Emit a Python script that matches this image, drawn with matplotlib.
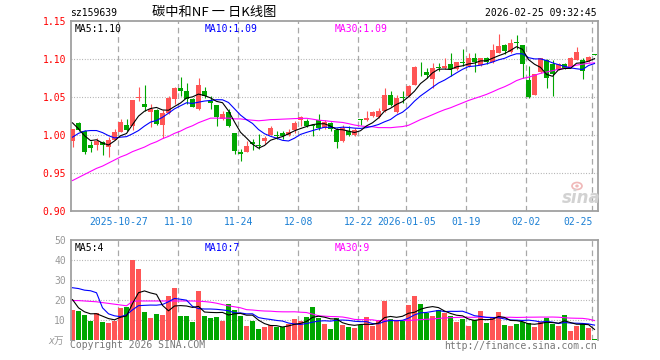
import matplotlib
matplotlib.use("Agg")
import matplotlib.pyplot as plt
from matplotlib.patches import Ellipse
import numpy as np
import pandas as pd

# daily K data, 2025-10-15 .. 2026-02-25 (88 trading days)
opens = [0.9917, 1.0158, 1.0048, 0.9864, 0.9864, 0.9908, 0.984, 0.9939, 1.004, 1.0136,
         1.0114, 1.048, 1.040, 1.0298, 1.0333, 1.0136, 1.029, 1.0465, 1.061, 1.057,
         1.047, 1.0346, 1.0575, 1.044, 1.0386, 1.021, 1.0298, 1.0026, 0.978, 0.978,
         0.9912, 0.9868, 0.9917, 1.0004, 1.0004, 1.0026, 0.9996, 1.006, 1.0193, 1.018,
         1.0123, 1.0193, 1.0092, 1.0158, 1.007, 0.9917, 1.0048, 1.0004, 1.021, 1.020,
         1.0246, 1.0232, 1.031, 1.053, 1.030, 1.0496, 1.051, 1.066, 1.0895, 1.083,
         1.0728, 1.0895, 1.088, 1.0925, 1.086, 1.095, 1.0904, 1.1004, 1.0917, 1.1004,
         1.096, 1.108, 1.1175, 1.1088, 1.1215, 1.1175, 1.072, 1.053, 1.083, 1.099,
         1.0934, 1.086, 1.0925, 1.089, 1.099, 1.099, 1.097, 1.1057]
highs = [1.0083, 1.0175, 1.006, 0.9925, 0.996, 0.9925, 0.997, 1.008, 1.021, 1.021,
         1.046, 1.063, 1.065, 1.041, 1.034, 1.033, 1.051, 1.063, 1.076, 1.068,
         1.049, 1.075, 1.063, 1.051, 1.039, 1.031, 1.034, 1.003, 0.9816, 0.9925,
         0.9947, 1.0018, 0.999, 1.012, 1.005, 1.005, 1.008, 1.018, 1.0254, 1.021,
         1.0136, 1.0268, 1.020, 1.0167, 1.0092, 1.0127, 1.0114, 1.0092, 1.021, 1.031,
         1.032, 1.0355, 1.061, 1.0575, 1.052, 1.0575, 1.0654, 1.090, 1.0956, 1.088,
         1.0947, 1.0947, 1.101, 1.108, 1.096, 1.113, 1.108, 1.108, 1.101, 1.1018,
         1.119, 1.132, 1.119, 1.1254, 1.1307, 1.1175, 1.0904, 1.080, 1.101, 1.100,
         1.0978, 1.0947, 1.094, 1.102, 1.1153, 1.101, 1.1035, 1.1057]
lows = [0.984, 1.005, 0.9754, 0.977, 0.980, 0.974, 0.971, 0.993, 1.0035, 1.005,
        1.007, 1.044, 1.031, 1.0105, 1.013, 0.996, 1.028, 1.041, 1.051, 1.040,
        1.036, 1.033, 1.049, 1.034, 1.0114, 1.019, 1.011, 0.9754, 0.9653, 0.977,
        0.9807, 0.982, 0.988, 1.000, 0.9947, 0.9947, 0.998, 1.0026, 1.0123, 1.0105,
        0.999, 1.007, 1.008, 1.0048, 0.983, 0.9908, 0.998, 0.998, 1.0136, 1.018,
        1.0237, 1.0224, 1.030, 1.0377, 1.029, 1.042, 1.050, 1.065, 1.077, 1.075,
        1.061, 1.0838, 1.086, 1.077, 1.085, 1.090, 1.089, 1.083, 1.090, 1.0925,
        1.0947, 1.107, 1.1066, 1.108, 1.1123, 1.075, 1.0487, 1.052, 1.0816, 1.0618,
        1.0509, 1.085, 1.087, 1.088, 1.098, 1.0728, 1.096, 1.105]
closes = [1.0083, 1.007, 0.977, 0.983, 0.9925, 0.987, 0.9939, 1.004, 1.017, 1.007,
          1.0456, 1.0496, 1.0364, 1.0346, 1.014, 1.029, 1.0478, 1.061, 1.0575, 1.0465,
          1.037, 1.066, 1.051, 1.0425, 1.0237, 1.028, 1.0123, 0.9785, 0.9746, 0.986,
          0.9877, 0.986, 0.996, 1.009, 0.999, 0.999, 1.004, 1.0158, 1.0237, 1.0123,
          1.0114, 1.0092, 1.0167, 1.008, 0.9908, 1.0092, 1.0004, 1.007, 1.020, 1.0224,
          1.0298, 1.032, 1.052, 1.0386, 1.0478, 1.0478, 1.064, 1.089, 1.0886, 1.0785,
          1.0873, 1.088, 1.090, 1.086, 1.0956, 1.094, 1.1004, 1.0956, 1.1004, 1.096,
          1.111, 1.1167, 1.110, 1.121, 1.1206, 1.0934, 1.0496, 1.0794, 1.1004, 1.075,
          1.0803, 1.0925, 1.088, 1.101, 1.1088, 1.0838, 1.102, 1.1052]
volumes = [15.3, 14.8, 12.7, 9.8, 13.7, 9.2, 8.7, 9.7, 16.2, 16.8,
           40.2, 35.7, 14.2, 11.2, 13.2, 12.7, 22.2, 26.2, 12.2, 12.2,
           9.2, 24.7, 12.2, 11.2, 11.7, 9.7, 18.2, 15.3, 12.2, 7.2,
           9.8, 5.7, 6.7, 7.5, 6.8, 6.5, 8.3, 10.7, 9.8, 11.7,
           16.7, 11.2, 8.2, 5.7, 11.2, 7.5, 6.7, 6.2, 7.8, 11.7,
           7.2, 10.2, 19.7, 10.7, 9.5, 9.8, 17.7, 22.2, 18.2, 13.7,
           12.2, 15.2, 13.7, 12.2, 9.2, 10.7, 7.2, 10.2, 14.7, 8.7,
           11.7, 14.2, 7.7, 7.2, 8.2, 9.2, 8.7, 6.7, 9.2, 11.2,
           8.3, 7.2, 12.7, 4.7, 7.2, 8.2, 6.2, 0.8]

# moving-average values before the window is full
ma5_head = [1.0158, 1.008, 0.999, 0.9925]
ma10_head = [0.997, 1.002, 1.005, 1.0057, 1.0057, 1.003, 0.999, 0.996, 0.997]
ma30_head = [0.940, 0.944, 0.948, 0.952, 0.956, 0.959, 0.963, 0.967, 0.971, 0.974,
             0.978, 0.981, 0.984, 0.988, 0.991, 0.995, 0.998, 1.002, 1.005, 1.009,
             1.012, 1.016, 1.019, 1.022, 1.022, 1.022, 1.022, 1.021, 1.021]
vma5_head = [20.3, 16.2, 14.2, 13.2]
vma10_head = [26.2, 25.8, 25.0, 24.7, 23.7, 16.2, 13.2, 12.2, 11.8]
vma30_head = [19.8, 19.8, 19.6, 19.4, 19.2, 18.8, 18.4, 18.0, 17.6, 17.2,
              19.4, 19.6, 19.6, 19.6, 19.6, 19.6, 19.6, 19.6, 19.6, 19.6,
              19.6, 19.5, 19.3, 19.0, 18.5, 17.8, 17.2, 16.7, 16.2]

date_idx = [8, 18, 28, 38, 48, 56, 66, 76, 87]
date_labels = ["2025-10-27", "11-10", "11-24", "12-08", "12-22",
               "2026-01-05", "01-19", "02-02", "02-25"]
price_ticks = [0.90, 0.95, 1.00, 1.05, 1.10, 1.15]
vol_ticks = [10, 20, 30, 40, 50]

RED = "#ff5555"
GREEN = "#00a600"
GRID = "#a8a8a8"
FRAME = "#a0a0a0"
MONO = "DejaVu Sans Mono"
W, H = 660, 360


def moving_avg(values, n, head):
    s = pd.Series(values, dtype=float).rolling(n).mean()
    s.iloc[:len(head)] = head
    return s.values


def fx(px):
    return px / W


def fy(py):
    return 1 - py / H


o = np.array(opens)
c = np.array(closes)
x = np.arange(len(c))
up = c >= o
colors = np.where(up, RED, GREEN)

fig = plt.figure(figsize=(6.6, 3.6), dpi=100)
ax = fig.add_axes([fx(70.7), fy(211), fx(527), (211 - 20.7) / H])
axv = fig.add_axes([fx(70.7), fy(340.3), fx(527), (340.3 - 240) / H])
xlim = (-0.3, 87.53)
grid_x = [i - 0.35 for i in date_idx]

# --- price panel
for a in (ax, axv):
    for gx in grid_x:
        a.axvline(gx, color=GRID, lw=0.9, dashes=(4.5, 3), zorder=1)
for lvl in price_ticks[1:-1]:
    ax.axhline(lvl, color=GRID, lw=0.8, dashes=(0.8, 1.6), zorder=1)

ax.vlines(x, lows, highs, colors=colors, lw=0.8, zorder=2)
ax.bar(x, np.maximum(np.abs(c - o), 0.0011), bottom=np.minimum(o, c),
       width=0.83, color=colors, lw=0, zorder=3)

ma5 = moving_avg(closes, 5, ma5_head)
ma10 = moving_avg(closes, 10, ma10_head)
ma30 = moving_avg(closes, 30, ma30_head)
ax.plot(x, ma30, color="#ff00ff", lw=0.8, zorder=4)
ax.plot(x, ma10, color="#0000ff", lw=0.8, zorder=4)
ax.plot(x, ma5, color="#000000", lw=0.8, zorder=4)

ax.set_xlim(*xlim)
ax.set_ylim(0.90, 1.15)
ax.set_yticks(price_ticks)
ax.set_yticklabels([f"{t:.2f}" for t in price_ticks], fontsize=7, family=MONO, color="#ff0000")
ax.set_xticks(grid_x)
ax.set_xticklabels(date_labels, fontsize=7, family=MONO, color="#1a7fd4")
ax.get_xticklabels()[-1].set_ha("right")
ax.tick_params(axis="y", length=0, pad=3.4)
ax.tick_params(axis="x", length=0, pad=4)
for sp in ax.spines.values():
    sp.set_color(FRAME)
    sp.set_linewidth(1.3)

ax.text(0.008, 0.985, "MA5:1.10", transform=ax.transAxes, fontsize=7, family=MONO,
        color="#000000", va="top")
ax.text((205 - 70.7) / 527, 0.985, "MA10:1.09", transform=ax.transAxes, fontsize=7,
        family=MONO, color="#0000ff", va="top")
ax.text((334.7 - 70.7) / 527, 0.985, "MA30:1.09", transform=ax.transAxes, fontsize=7,
        family=MONO, color="#ff00ff", va="top")

# --- volume panel
for lvl in vol_ticks[:-1]:
    axv.axhline(lvl, color=GRID, lw=0.8, dashes=(0.8, 1.6), zorder=1)
axv.bar(x, volumes, width=0.83, color=colors, lw=0, zorder=2)
axv.plot(x, moving_avg(volumes, 30, vma30_head), color="#ff00ff", lw=0.8, zorder=3)
axv.plot(x, moving_avg(volumes, 10, vma10_head), color="#0000ff", lw=0.8, zorder=3)
axv.plot(x, moving_avg(volumes, 5, vma5_head), color="#000000", lw=0.8, zorder=3)
axv.set_xlim(*xlim)
axv.set_ylim(0, 50)
axv.set_xticks([])
axv.set_yticks(vol_ticks)
axv.set_yticklabels([str(t) for t in vol_ticks], fontsize=7, family=MONO, color="#999999")
axv.tick_params(axis="y", length=0, pad=3.4)
for sp in axv.spines.values():
    sp.set_color(FRAME)
    sp.set_linewidth(1.3)
axv.spines["bottom"].set_visible(False)

axv.text(0.008, 0.97, "MA5:4", transform=axv.transAxes, fontsize=7, family=MONO,
         color="#000000", va="top")
axv.text((205 - 70.7) / 527, 0.97, "MA10:7", transform=axv.transAxes, fontsize=7,
         family=MONO, color="#0000ff", va="top")
axv.text((334.7 - 70.7) / 527, 0.97, "MA30:9", transform=axv.transAxes, fontsize=7,
         family=MONO, color="#ff00ff", va="top")

# --- header / footer texts
fig.text(fx(70), fy(13), "sz159639", fontsize=7, family=MONO, va="center", ha="left")
fig.text(fx(213.7), fy(12.5), "碳中和NF 一 日K线图", fontsize=9.5,
         family=["Noto Sans CJK SC", "DejaVu Sans"], va="center", ha="center")
fig.text(fx(597), fy(13), "2026-02-25 09:32:45", fontsize=7, family=MONO,
         va="center", ha="right")
fig.text(fx(63.5), fy(341), "x万", fontsize=7, family=[MONO, "Noto Sans CJK SC"],
         color="#999999", va="center", ha="right", style="italic")
fig.text(fx(69.5), fy(345.5), "Copyright 2026 SINA.COM", fontsize=7, family=MONO,
         color="#777777", va="center", ha="left")
fig.text(fx(597), fy(346), "http://finance.sina.com.cn", fontsize=7, family=MONO,
         color="#777777", va="center", ha="right")

# sina watermark: eye mark + word
fig.patches.append(Ellipse((fx(577), fy(186)), fx(10), 7 / H, transform=fig.transFigure,
                           facecolor="none", edgecolor="#f0b8b8", lw=1.2))
fig.patches.append(Ellipse((fx(577), fy(186)), fx(3.5), 3 / H, transform=fig.transFigure,
                           facecolor="#f0b8b8", edgecolor="none"))
fig.text(fx(581), fy(198), "sina", fontsize=12, fontweight="bold", style="italic",
         color="#d2d2d2", va="center", ha="center")

fig.savefig("out.png", dpi=100, facecolor="white")
